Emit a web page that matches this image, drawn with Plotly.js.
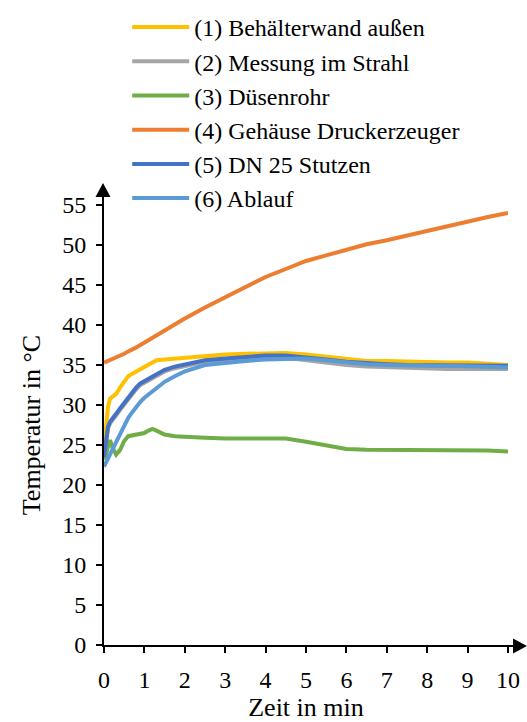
<!DOCTYPE html>
<html>
<head>
<meta charset="utf-8">
<script src="https://cdn.plot.ly/plotly-3.0.1.min.js"></script>
<style>html,body{margin:0;padding:0;background:#fff;}#chart{width:527px;height:722px;}</style>
</head>
<body>
<div id="chart"></div>
<script>
// Time in min
var time = [0, 0.05, 0.1, 0.15, 0.2, 0.3, 0.4, 0.5, 0.6, 0.7, 0.8, 0.9, 1.0, 1.1, 1.2, 1.3, 1.5, 1.75, 2.0, 2.5, 3.0, 3.5, 4.0, 4.5, 5.0, 5.5, 6.0, 6.5, 7.0, 7.5, 8.0, 8.5, 9.0, 9.5, 10.0];

var seriesNames = ["(1) Behälterwand außen", "(2) Messung im Strahl", "(3) Düsenrohr", "(4) Gehäuse Druckerzeuger", "(5) DN 25 Stutzen", "(6) Ablauf"];

var behaelterwand = [24.5, 27.5, 29.8, 30.8, 31.0, 31.4, 32.2, 33.0, 33.6, 33.9, 34.2, 34.5, 34.8, 35.1, 35.4, 35.6, 35.7, 35.8, 35.9, 36.2, 36.3, 36.4, 36.5, 36.5, 36.3, 36.0, 35.7, 35.5, 35.5, 35.4, 35.4, 35.3, 35.3, 35.2, 35.0];
var messungStrahl = [23.3, 25.3, 27.1, 27.7, 28.1, 28.7, 29.4, 30.1, 30.8, 31.4, 32.0, 32.5, 32.8, 33.1, 33.4, 33.7, 34.2, 34.6, 34.9, 35.4, 35.6, 35.8, 35.9, 35.9, 35.6, 35.2, 35.0, 34.8, 34.7, 34.6, 34.6, 34.5, 34.5, 34.5, 34.5];
var duesenrohr = [23.2, 23.8, 24.8, 25.6, 24.8, 23.8, 24.4, 25.5, 26.1, 26.2, 26.2, 26.3, 26.5, 26.8, 27.0, 26.8, 26.3, 26.1, 26.0, 25.9, 25.8, 25.8, 25.8, 25.8, 25.4, 25.0, 24.5, 24.4, 24.4, 24.3, 24.3, 24.3, 24.4, 24.3, 24.2];
var gehaeuse = [35.3, 35.4, 35.5, 35.6, 35.7, 35.9, 36.1, 36.4, 36.7, 36.9, 37.2, 37.5, 37.8, 38.1, 38.4, 38.7, 39.4, 40.1, 40.8, 42.2, 43.5, 44.8, 46.0, 47.0, 48.0, 48.7, 49.4, 50.1, 50.6, 51.2, 51.8, 52.4, 53.0, 53.5, 54.0];
var stutzen = [23.5, 25.5, 27.3, 27.9, 28.3, 28.9, 29.6, 30.3, 31.0, 31.6, 32.2, 32.7, 33.0, 33.3, 33.6, 33.9, 34.4, 34.8, 35.1, 35.6, 35.8, 36.0, 36.2, 36.2, 36.0, 35.7, 35.4, 35.2, 35.1, 35.0, 35.0, 35.0, 35.0, 35.0, 34.9];
var ablauf = [22.3, 22.8, 23.3, 23.8, 24.3, 25.4, 26.4, 27.4, 28.4, 29.1, 29.8, 30.4, 30.9, 31.3, 31.7, 32.1, 32.9, 33.6, 34.2, 35.0, 35.3, 35.5, 35.7, 35.8, 35.8, 35.6, 35.3, 35.1, 35.0, 34.9, 34.9, 34.9, 34.8, 34.7, 34.7];

var xTicks = [0, 1, 2, 3, 4, 5, 6, 7, 8, 9, 10];
var yTicks = [0, 5, 10, 15, 20, 25, 30, 35, 40, 45, 50, 55];

var colors = ["#FFC000", "#A5A5A5", "#70AD47", "#ED7D31", "#4472C4", "#5B9BD5"];
var allSeries = [behaelterwand, messungStrahl, duesenrohr, gehaeuse, stutzen, ablauf];

var FONT = "Liberation Serif";

var traces = allSeries.map(function (vals, i) {
  return {
    x: time, y: vals, name: seriesNames[i], type: "scatter", mode: "lines",
    line: {color: colors[i], width: 4}
  };
});

var layout = {
  width: 527, height: 722,
  margin: {l: 104, r: 19, t: 205, b: 77, autoexpand: false},
  paper_bgcolor: "#fff", plot_bgcolor: "#fff",
  font: {family: FONT, size: 24, color: "#000"},
  showlegend: true,
  legend: {
    x: 0.0574, y: 1.4545, xanchor: "left", yanchor: "top",
    font: {family: FONT, size: 24, color: "#000"},
    bgcolor: "rgba(0,0,0,0)", itemwidth: 57, tracegroupgap: 0
  },
  xaxis: {
    range: [0, 10], tickvals: xTicks, ticktext: xTicks.map(String),
    showgrid: false, zeroline: false, showline: true, linecolor: "#000", linewidth: 2,
    ticks: "outside", ticklen: 6, tickwidth: 2, tickcolor: "#000",
    ticklabelstandoff: 6, automargin: false,
    tickfont: {family: FONT, size: 24, color: "#000"},
    title: {text: "Zeit in min", font: {family: FONT, size: 26, color: "#000"}, standoff: 2}
  },
  yaxis: {
    range: [0, 55], tickvals: yTicks, ticktext: yTicks.map(String),
    showgrid: false, zeroline: false, showline: true, linecolor: "#000", linewidth: 2,
    ticks: "outside", ticklen: 6, tickwidth: 2, tickcolor: "#000",
    ticklabelstandoff: 5, automargin: false,
    tickfont: {family: FONT, size: 24, color: "#000"},
    title: {text: "Temperatur in °C", font: {family: FONT, size: 26, color: "#000"}, standoff: 14}
  },
  shapes: [
    // x-axis extension beyond 10 and arrowhead
    {type: "line", xref: "paper", yref: "paper", xsizemode: "pixel", ysizemode: "pixel",
     xanchor: 1, yanchor: 0, x0: -1, x1: 8, y0: -1, y1: -1, line: {color: "#000", width: 2}},
    {type: "path", xref: "paper", yref: "paper", xsizemode: "pixel", ysizemode: "pixel",
     xanchor: 1, yanchor: 0, path: "M19,-1 L5,6.5 L5,-8.5 Z", fillcolor: "#000", line: {width: 0}},
    // y-axis extension above 55 and arrowhead
    {type: "line", xref: "paper", yref: "paper", xsizemode: "pixel", ysizemode: "pixel",
     xanchor: 0, yanchor: 1, x0: -1, x1: -1, y0: -1, y1: 10, line: {color: "#000", width: 2}},
    {type: "path", xref: "paper", yref: "paper", xsizemode: "pixel", ysizemode: "pixel",
     xanchor: 0, yanchor: 1, path: "M-1,22 L-8.5,8 L6.5,8 Z", fillcolor: "#000", line: {width: 0}}
  ]
};

Plotly.newPlot("chart", traces, layout, {displayModeBar: false, staticPlot: true});
</script>
</body>
</html>
